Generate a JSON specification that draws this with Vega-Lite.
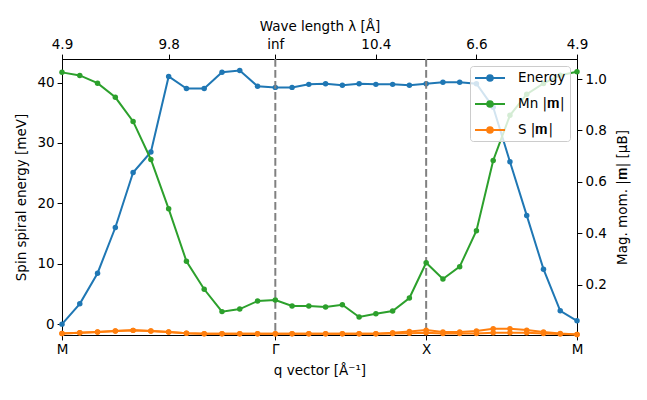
{
  "$schema": "https://vega.github.io/schema/vega-lite/v6.json",
  "width": 515,
  "height": 276,
  "autosize": "none",
  "padding": {"left": 62, "top": 59, "right": 70, "bottom": 65},
  "background": "white",
  "config": {
    "view": {"stroke": "black", "strokeWidth": 1},
    "font": "DejaVu Sans",
    "axis": {
      "grid": false,
      "domainColor": "black",
      "domainWidth": 1,
      "tickColor": "black",
      "tickWidth": 1,
      "tickSize": 4.9,
      "labelColor": "black",
      "titleColor": "black",
      "labelFont": "DejaVu Sans",
      "titleFont": "DejaVu Sans",
      "labelFontSize": 13.5,
      "titleFontSize": 13.5,
      "titleFontWeight": "normal",
      "labelPadding": 3,
      "labelFlush": false,
      "labelOverlap": false,
      "labelBound": false
    },
    "legend": {
      "labelFont": "DejaVu Sans",
      "labelFontSize": 13.5,
      "labelColor": "black"
    }
  },
  "datasets": {
    "energy": [
      {"x": 0, "series": "Energy", "E": 0},
      {"x": 0.1179, "series": "Energy", "E": 3.36},
      {"x": 0.2357, "series": "Energy", "E": 8.43},
      {"x": 0.3536, "series": "Energy", "E": 16.0},
      {"x": 0.4714, "series": "Energy", "E": 25.1},
      {"x": 0.5893, "series": "Energy", "E": 28.5},
      {"x": 0.7071, "series": "Energy", "E": 41.0},
      {"x": 0.825, "series": "Energy", "E": 39.0},
      {"x": 0.9428, "series": "Energy", "E": 39.0},
      {"x": 1.0607, "series": "Energy", "E": 41.7},
      {"x": 1.1785, "series": "Energy", "E": 42.0},
      {"x": 1.2964, "series": "Energy", "E": 39.4},
      {"x": 1.4142, "series": "Energy", "E": 39.2},
      {"x": 1.5253, "series": "Energy", "E": 39.2},
      {"x": 1.6364, "series": "Energy", "E": 39.7},
      {"x": 1.7475, "series": "Energy", "E": 39.8},
      {"x": 1.8586, "series": "Energy", "E": 39.55},
      {"x": 1.9697, "series": "Energy", "E": 39.8},
      {"x": 2.0809, "series": "Energy", "E": 39.7},
      {"x": 2.192, "series": "Energy", "E": 39.7},
      {"x": 2.3031, "series": "Energy", "E": 39.55},
      {"x": 2.4142, "series": "Energy", "E": 39.8},
      {"x": 2.5253, "series": "Energy", "E": 40.05},
      {"x": 2.6364, "series": "Energy", "E": 40.05},
      {"x": 2.7475, "series": "Energy", "E": 39.8},
      {"x": 2.8586, "series": "Energy", "E": 35.9},
      {"x": 2.9697, "series": "Energy", "E": 26.9},
      {"x": 3.0809, "series": "Energy", "E": 18.0},
      {"x": 3.192, "series": "Energy", "E": 9.1},
      {"x": 3.3031, "series": "Energy", "E": 2.2},
      {"x": 3.4142, "series": "Energy", "E": 0.55}
    ],
    "mag": [
      {"x": 0, "series": "Mn |𝐦|", "site": "Mn", "m": 1.026},
      {"x": 0.1179, "series": "Mn |𝐦|", "site": "Mn", "m": 1.014},
      {"x": 0.2357, "series": "Mn |𝐦|", "site": "Mn", "m": 0.984},
      {"x": 0.3536, "series": "Mn |𝐦|", "site": "Mn", "m": 0.929},
      {"x": 0.4714, "series": "Mn |𝐦|", "site": "Mn", "m": 0.835},
      {"x": 0.5893, "series": "Mn |𝐦|", "site": "Mn", "m": 0.687},
      {"x": 0.7071, "series": "Mn |𝐦|", "site": "Mn", "m": 0.495},
      {"x": 0.825, "series": "Mn |𝐦|", "site": "Mn", "m": 0.291},
      {"x": 0.9428, "series": "Mn |𝐦|", "site": "Mn", "m": 0.182},
      {"x": 1.0607, "series": "Mn |𝐦|", "site": "Mn", "m": 0.095},
      {"x": 1.1785, "series": "Mn |𝐦|", "site": "Mn", "m": 0.105},
      {"x": 1.2964, "series": "Mn |𝐦|", "site": "Mn", "m": 0.136},
      {"x": 1.4142, "series": "Mn |𝐦|", "site": "Mn", "m": 0.14},
      {"x": 1.5253, "series": "Mn |𝐦|", "site": "Mn", "m": 0.117},
      {"x": 1.6364, "series": "Mn |𝐦|", "site": "Mn", "m": 0.117},
      {"x": 1.7475, "series": "Mn |𝐦|", "site": "Mn", "m": 0.113},
      {"x": 1.8586, "series": "Mn |𝐦|", "site": "Mn", "m": 0.122},
      {"x": 1.9697, "series": "Mn |𝐦|", "site": "Mn", "m": 0.074},
      {"x": 2.0809, "series": "Mn |𝐦|", "site": "Mn", "m": 0.087},
      {"x": 2.192, "series": "Mn |𝐦|", "site": "Mn", "m": 0.097},
      {"x": 2.3031, "series": "Mn |𝐦|", "site": "Mn", "m": 0.148},
      {"x": 2.4142, "series": "Mn |𝐦|", "site": "Mn", "m": 0.285},
      {"x": 2.5253, "series": "Mn |𝐦|", "site": "Mn", "m": 0.222},
      {"x": 2.6364, "series": "Mn |𝐦|", "site": "Mn", "m": 0.27},
      {"x": 2.7475, "series": "Mn |𝐦|", "site": "Mn", "m": 0.41},
      {"x": 2.8586, "series": "Mn |𝐦|", "site": "Mn", "m": 0.683},
      {"x": 2.9697, "series": "Mn |𝐦|", "site": "Mn", "m": 0.859},
      {"x": 3.0809, "series": "Mn |𝐦|", "site": "Mn", "m": 0.941},
      {"x": 3.192, "series": "Mn |𝐦|", "site": "Mn", "m": 0.983},
      {"x": 3.3031, "series": "Mn |𝐦|", "site": "Mn", "m": 1.015},
      {"x": 3.4142, "series": "Mn |𝐦|", "site": "Mn", "m": 1.028},

      {"x": 0, "series": "S |𝐦|", "site": "S1", "m": 0.01},
      {"x": 0.1179, "series": "S |𝐦|", "site": "S1", "m": 0.0125},
      {"x": 0.2357, "series": "S |𝐦|", "site": "S1", "m": 0.016},
      {"x": 0.3536, "series": "S |𝐦|", "site": "S1", "m": 0.02},
      {"x": 0.4714, "series": "S |𝐦|", "site": "S1", "m": 0.022},
      {"x": 0.5893, "series": "S |𝐦|", "site": "S1", "m": 0.02},
      {"x": 0.7071, "series": "S |𝐦|", "site": "S1", "m": 0.016},
      {"x": 0.825, "series": "S |𝐦|", "site": "S1", "m": 0.011},
      {"x": 0.9428, "series": "S |𝐦|", "site": "S1", "m": 0.009},
      {"x": 1.0607, "series": "S |𝐦|", "site": "S1", "m": 0.009},
      {"x": 1.1785, "series": "S |𝐦|", "site": "S1", "m": 0.009},
      {"x": 1.2964, "series": "S |𝐦|", "site": "S1", "m": 0.009},
      {"x": 1.4142, "series": "S |𝐦|", "site": "S1", "m": 0.009},
      {"x": 1.5253, "series": "S |𝐦|", "site": "S1", "m": 0.009},
      {"x": 1.6364, "series": "S |𝐦|", "site": "S1", "m": 0.009},
      {"x": 1.7475, "series": "S |𝐦|", "site": "S1", "m": 0.009},
      {"x": 1.8586, "series": "S |𝐦|", "site": "S1", "m": 0.009},
      {"x": 1.9697, "series": "S |𝐦|", "site": "S1", "m": 0.009},
      {"x": 2.0809, "series": "S |𝐦|", "site": "S1", "m": 0.009},
      {"x": 2.192, "series": "S |𝐦|", "site": "S1", "m": 0.0125},
      {"x": 2.3031, "series": "S |𝐦|", "site": "S1", "m": 0.018},
      {"x": 2.4142, "series": "S |𝐦|", "site": "S1", "m": 0.023},
      {"x": 2.5253, "series": "S |𝐦|", "site": "S1", "m": 0.016},
      {"x": 2.6364, "series": "S |𝐦|", "site": "S1", "m": 0.016},
      {"x": 2.7475, "series": "S |𝐦|", "site": "S1", "m": 0.02},
      {"x": 2.8586, "series": "S |𝐦|", "site": "S1", "m": 0.028},
      {"x": 2.9697, "series": "S |𝐦|", "site": "S1", "m": 0.028},
      {"x": 3.0809, "series": "S |𝐦|", "site": "S1", "m": 0.023},
      {"x": 3.192, "series": "S |𝐦|", "site": "S1", "m": 0.016},
      {"x": 3.3031, "series": "S |𝐦|", "site": "S1", "m": 0.01},
      {"x": 3.4142, "series": "S |𝐦|", "site": "S1", "m": 0.006},

      {"x": 0, "series": "S |𝐦|", "site": "S2", "m": 0.01},
      {"x": 0.1179, "series": "S |𝐦|", "site": "S2", "m": 0.0125},
      {"x": 0.2357, "series": "S |𝐦|", "site": "S2", "m": 0.016},
      {"x": 0.3536, "series": "S |𝐦|", "site": "S2", "m": 0.02},
      {"x": 0.4714, "series": "S |𝐦|", "site": "S2", "m": 0.022},
      {"x": 0.5893, "series": "S |𝐦|", "site": "S2", "m": 0.02},
      {"x": 0.7071, "series": "S |𝐦|", "site": "S2", "m": 0.016},
      {"x": 0.825, "series": "S |𝐦|", "site": "S2", "m": 0.011},
      {"x": 0.9428, "series": "S |𝐦|", "site": "S2", "m": 0.009},
      {"x": 1.0607, "series": "S |𝐦|", "site": "S2", "m": 0.009},
      {"x": 1.1785, "series": "S |𝐦|", "site": "S2", "m": 0.009},
      {"x": 1.2964, "series": "S |𝐦|", "site": "S2", "m": 0.009},
      {"x": 1.4142, "series": "S |𝐦|", "site": "S2", "m": 0.009},
      {"x": 1.5253, "series": "S |𝐦|", "site": "S2", "m": 0.009},
      {"x": 1.6364, "series": "S |𝐦|", "site": "S2", "m": 0.009},
      {"x": 1.7475, "series": "S |𝐦|", "site": "S2", "m": 0.009},
      {"x": 1.8586, "series": "S |𝐦|", "site": "S2", "m": 0.009},
      {"x": 1.9697, "series": "S |𝐦|", "site": "S2", "m": 0.009},
      {"x": 2.0809, "series": "S |𝐦|", "site": "S2", "m": 0.009},
      {"x": 2.192, "series": "S |𝐦|", "site": "S2", "m": 0.01},
      {"x": 2.3031, "series": "S |𝐦|", "site": "S2", "m": 0.011},
      {"x": 2.4142, "series": "S |𝐦|", "site": "S2", "m": 0.0125},
      {"x": 2.5253, "series": "S |𝐦|", "site": "S2", "m": 0.01},
      {"x": 2.6364, "series": "S |𝐦|", "site": "S2", "m": 0.01},
      {"x": 2.7475, "series": "S |𝐦|", "site": "S2", "m": 0.01},
      {"x": 2.8586, "series": "S |𝐦|", "site": "S2", "m": 0.0125},
      {"x": 2.9697, "series": "S |𝐦|", "site": "S2", "m": 0.0125},
      {"x": 3.0809, "series": "S |𝐦|", "site": "S2", "m": 0.0125},
      {"x": 3.192, "series": "S |𝐦|", "site": "S2", "m": 0.01},
      {"x": 3.3031, "series": "S |𝐦|", "site": "S2", "m": 0.008},
      {"x": 3.4142, "series": "S |𝐦|", "site": "S2", "m": 0.006}
    ],
    "marks": [
      {"x": 1.4142},
      {"x": 2.4142}
    ]
  },
  "layer": [
    {
      "data": {"name": "energy"},
      "mark": {"type": "line", "strokeWidth": 2, "point": {"filled": true, "size": 30}},
      "encoding": {
        "x": {
          "field": "x", "type": "quantitative",
          "scale": {"domain": [0, 3.4142], "nice": false, "zero": false},
          "axis": {
            "orient": "bottom",
            "title": "q vector [Å⁻¹]",
            "values": [0, 1.4142, 2.4142, 3.4142],
            "labelExpr": "datum.value < 0.5 ? 'M' : datum.value < 2 ? 'Γ' : datum.value < 3 ? 'X' : 'M'",
            "titlePadding": 7
          }
        },
        "y": {
          "field": "E", "type": "quantitative",
          "scale": {"domain": [-1.8, 43.9], "nice": false, "zero": false},
          "axis": {
            "orient": "left",
            "title": "Spin spiral energy [meV]",
            "values": [0, 10, 20, 30, 40],
            "titlePadding": 8
          }
        },
        "color": {
          "field": "series", "type": "nominal",
          "scale": {"domain": ["Energy", "Mn |𝐦|", "S |𝐦|"], "range": ["#1f77b4", "#2ca02c", "#ff7f0e"]},
          "legend": {
            "title": null,
            "orient": "top-right",
            "offset": 7,
            "symbolType": "M-2.143,0L2.143,0M-0.4,0A0.4,0.4,0,1,1,0.4,0A0.4,0.4,0,1,1,-0.4,0Z",
            "symbolSize": 196,
            "symbolStrokeWidth": 2,
            "symbolOffset": 8,
            "fillColor": "rgba(255,255,255,0.8)",
            "strokeColor": "#cccccc",
            "cornerRadius": 3,
            "padding": 4,
            "rowPadding": 11,
            "labelOffset": 20,
            "encode": {
              "symbols": {
                "update": {
                  "fill": {"scale": "color", "field": "value"},
                  "stroke": {"scale": "color", "field": "value"},
                  "opacity": {"value": 1}
                }
              }
            }
          }
        }
      }
    },
    {
      "data": {"name": "marks"},
      "mark": {"type": "rule", "color": "#808080", "strokeWidth": 2, "strokeDash": [7.7, 3.3]},
      "encoding": {
        "x": {"field": "x", "type": "quantitative", "axis": null}
      }
    },
    {
      "data": {"name": "mag"},
      "mark": {"type": "line", "strokeWidth": 2, "point": {"filled": true, "size": 30}},
      "encoding": {
        "x": {
          "field": "x", "type": "quantitative",
          "axis": {
            "orient": "top",
            "title": "Wave length λ [Å]",
            "values": [0, 0.7071, 1.4142, 2.0809, 2.7475, 3.4142],
            "labelExpr": "datum.value < 0.3 ? '4.9' : datum.value < 1 ? '9.8' : datum.value < 1.7 ? 'inf' : datum.value < 2.4 ? '10.4' : datum.value < 3 ? '6.6' : '4.9'",
            "titlePadding": 4
          }
        },
        "y": {
          "field": "m", "type": "quantitative",
          "scale": {"domain": [0.004, 1.078], "nice": false, "zero": false},
          "axis": {
            "orient": "right",
            "title": "Mag. mom. |𝐦| [μB]",
            "titleAngle": 270,
            "titleX": 45,
            "titleY": 138,
            "titleBaseline": "middle",
            "titleAlign": "center",
            "values": [0.2, 0.4, 0.6, 0.8, 1.0],
            "format": ".1f"
          }
        },
        "color": {"field": "series", "type": "nominal"},
        "detail": {"field": "site", "type": "nominal"}
      }
    }
  ],
  "resolve": {
    "scale": {"y": "independent"},
    "axis": {"x": "independent", "y": "independent"}
  }
}
